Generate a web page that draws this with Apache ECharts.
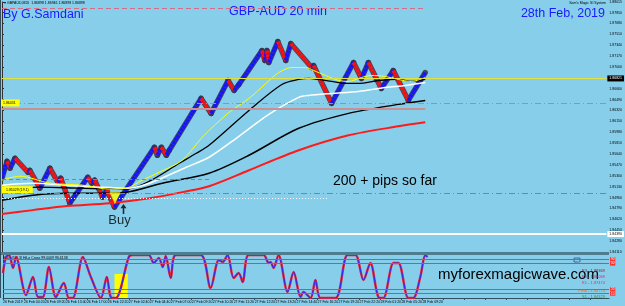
<!DOCTYPE html>
<html>
<head>
<meta charset="utf-8">
<title>GBP-AUD 20 min</title>
<script src="https://cdn.jsdelivr.net/npm/echarts@6/dist/echarts.min.js"></script>
<style>
  html, body { margin: 0; padding: 0; background: #87ceeb; }
  #chart { width: 625px; height: 306px; }
</style>
</head>
<body>
<div id="chart"></div>
<script>
// time labels under the oscillator, one every 10 bricks
const timeLabels = ['26 Feb 2019', '26 Feb 04:20', '26 Feb 09:20', '26 Feb 13:40', '26 Feb 17:00',
  '26 Feb 22:20', '27 Feb 02:40', '27 Feb 04:40', '27 Feb 07:00', '27 Feb 09:20', '27 Feb 10:20',
  '27 Feb 11:20', '27 Feb 12:20', '27 Feb 13:20', '27 Feb 14:40', '27 Feb 16:20', '27 Feb 19:20',
  '27 Feb 22:20', '28 Feb 01:20', '28 Feb 05:20', '28 Feb 09:20']

// renko swing points [brick, price]
const renkoSwings = [[0, 1.85263], [2.4, 1.85528], [3.8, 1.85419], [6.2, 1.85574], [12.4, 1.85356],
  [13.3, 1.85387], [18.1, 1.85107], [22.9, 1.85419], [26.7, 1.85200], [28.1, 1.85263], [32.4, 1.84873],
  [41, 1.85278], [42.9, 1.85185], [44.3, 1.85232], [48.1, 1.84967], [50, 1.85076], [53.8, 1.84811],
  [72.9, 1.85746], [74.3, 1.85621], [76.2, 1.85746], [78.6, 1.85621], [80, 1.85699], [95.2, 1.86509],
  [100, 1.86275], [108.1, 1.86789], [111, 1.86634], [113.3, 1.86727], [124.3, 1.87257], [125.7, 1.87101],
  [126.7, 1.87257], [127.6, 1.87070], [131.9, 1.87397], [135.7, 1.87101], [138.1, 1.87366],
  [148.1, 1.86992], [149, 1.87023], [157.6, 1.86431], [168.1, 1.87070], [171.9, 1.86821],
  [175.2, 1.87070], [181.4, 1.86665], [187.1, 1.86945], [194.3, 1.86478], [202.4, 1.86914]]

// moving averages [brick, price]
const maYellow = [[0, 1.85232], [8.6, 1.85294], [22.9, 1.85185], [38.6, 1.85154], [51.4, 1.85091],
  [59.5, 1.85107], [67.1, 1.85232], [75.2, 1.85356], [86.2, 1.85543], [95.7, 1.85901], [108.6, 1.86291],
  [118.1, 1.86509], [126.2, 1.86743], [132.4, 1.86914], [138.6, 1.86992], [145.2, 1.86992],
  [149, 1.86945], [154.8, 1.86867], [161, 1.86789], [165.7, 1.86774], [171.9, 1.86836], [176.7, 1.86867],
  [183.3, 1.86852], [189.5, 1.86805], [195.7, 1.86774], [202.4, 1.86836]]
const maWhite = [[0, 1.85154], [14.8, 1.85185], [31, 1.85154], [46.7, 1.85123], [59.5, 1.85107],
  [70.5, 1.85185], [88.1, 1.85434], [99, 1.85590], [113.3, 1.85917], [127.6, 1.86260], [141.9, 1.86525],
  [146.7, 1.86556], [157.6, 1.86587], [170.5, 1.86618], [183.3, 1.86680], [192.9, 1.86712],
  [202.4, 1.86758]]
const maBlack = [[0, 1.85076], [18.1, 1.85123], [37.1, 1.85107], [59.5, 1.85091], [70.5, 1.85216],
  [84.8, 1.85496], [92.9, 1.85652], [99, 1.85777], [118.1, 1.86322], [133.8, 1.86727], [141.9, 1.86805],
  [146.7, 1.86821], [151.4, 1.86805], [157.6, 1.86774], [164.3, 1.86743], [170.5, 1.86743],
  [180, 1.86789], [189.5, 1.86805], [195.7, 1.86774], [202.4, 1.86805]]
const maBlackSlow = [[0, 1.84920], [14.8, 1.84998], [31, 1.85029], [46.7, 1.85029], [59.5, 1.85045],
  [76.7, 1.85185], [99, 1.85341], [118.1, 1.85621], [141.9, 1.86042], [165.7, 1.86275],
  [189.5, 1.86416], [202.4, 1.86478]]
const maRed = [[0, 1.84702], [14.8, 1.84764], [31, 1.84827], [51.4, 1.84873], [70.5, 1.84951],
  [86.2, 1.85045], [99, 1.85138], [118.1, 1.85387], [141.9, 1.85699], [165.7, 1.85933],
  [189.5, 1.86073], [202.4, 1.86135]]

// oscillator [brick, value 0-100]
const stoch = [[0, 58.1], [1.4, 95.3], [2.9, 100], [4.8, 69.8], [6.2, 95.3], [11, 7], [14.3, 48.8],
  [16.7, 2.3], [19, 2.3], [21.9, 72.1], [25.2, 2.3], [29, 34.9], [31.4, 0], [33.3, 0], [38.1, 95.3],
  [41.9, 48.8], [46.7, 0], [49.5, 48.8], [51.4, 2.3], [53.8, 0], [60, 95.3], [61.9, 100], [69.5, 100],
  [71.9, 81.4], [74.3, 93], [76.2, 72.1], [77.6, 97.7], [80, 46.5], [82.4, 100], [94.3, 100], [99, 23.3],
  [102.9, 88.4], [104.8, 83.7], [107.1, 100], [110, 46.5], [112.4, 58.1], [114.3, 37.2], [117.1, 100],
  [124.3, 100], [126.7, 81.4], [127.6, 83.7], [129, 69.8], [131.4, 100], [135.7, 14], [138.6, 60.5],
  [141.9, 2.3], [143.3, 14], [146.7, 0], [149, 41.9], [151.4, 0], [158.6, 0], [164.3, 100],
  [168.1, 100], [171.9, 41.9], [175.2, 81.4], [179, 2.3], [181.4, 0], [186.2, 81.4], [188.6, 81.4],
  [193.3, 0], [195.7, 0], [199, 48.8], [201.4, 100], [202.4, 95.3]]
const stochLevels = [10, 20, 80, 90]

const currentPrice = 1.86821
const buyZone = [[54, 1.84951]]
const buyArrow = [[58.1, 1.84858]]
const pivotTexts = ['R3 - 1.88369', 'R2 - 1.88069', 'R1 - 1.87474', 'Pivot - 1.86774', 'S1 - 1.84329']
const pivotColors = ['#8b1a1a', '#c0306a', '#e0306a', '#ff6a00', '#1f9f2f']

const font = 'Liberation Sans'

const legs = []
for (let i = 1; i < renkoSwings.length; i++) {
  legs.push([renkoSwings[i - 1][0], renkoSwings[i - 1][1], renkoSwings[i][0], renkoSwings[i][1]])
}

// one renko leg, drawn as a thick band of bricks
const renkoLeg = function (outline) {
  return function (params, api) {
    const a = api.coord([api.value(0), api.value(1)])
    const b = api.coord([api.value(2), api.value(3)])
    const up = api.value(3) > api.value(1)
    return {
      type: 'line',
      shape: { x1: a[0], y1: a[1], x2: b[0], y2: b[1] },
      style: outline
        ? { stroke: '#34344a', lineWidth: 5.4, lineCap: 'round', opacity: 0.85 }
        : { stroke: up ? '#1414ff' : '#ff1010', lineWidth: 3.8, lineCap: 'butt', lineDash: [3.2, 0.5] }
    }
  }
}

const maLine = function (data, color, width) {
  return {
    type: 'line', data: data, xAxisIndex: 0, yAxisIndex: 0, showSymbol: false, smooth: 0.3,
    silent: true, lineStyle: { color: color, width: width }, z: 4
  }
}

const smallLabel = { fontSize: 3.5, fontFamily: font, color: '#000' }

const option = {
  backgroundColor: '#87ceeb',
  animation: false,
  grid: [
    { left: 2, right: 16, top: 1, height: 251 },
    { left: 2, right: 16, top: 255, height: 43 }
  ],
  xAxis: [
    { type: 'value', gridIndex: 0, min: 0, max: 289, show: false },
    {
      type: 'value', gridIndex: 1, min: 0, max: 289, interval: 10,
      axisLine: { show: true, lineStyle: { color: '#2f4f5f' } },
      axisTick: { show: true, length: 2, lineStyle: { color: '#2f4f5f' } },
      splitLine: { show: false },
      axisLabel: Object.assign({}, smallLabel, {
        margin: 2, align: 'left', showMaxLabel: false,
        formatter: function (v) { return timeLabels[Math.round(v / 10)] || '' }
      })
    }
  ],
  yAxis: [
    {
      type: 'value', gridIndex: 0, position: 'right', min: 1.8411, max: 1.88015, interval: 0.0017,
      axisLine: { show: true, lineStyle: { color: '#333' } },
      axisTick: { show: true, length: 2, lineStyle: { color: '#333' } },
      splitLine: { show: false },
      axisLabel: Object.assign({}, smallLabel, {
        margin: 3, formatter: function (v) { return v.toFixed(5) }
      })
    },
    {
      type: 'value', gridIndex: 1, position: 'right', min: 0, max: 100,
      axisLine: { show: true, lineStyle: { color: '#333' } },
      axisTick: { show: false }, axisLabel: { show: false }, splitLine: { show: false }
    }
  ],
  series: [
    // horizontal levels on the price chart
    {
      type: 'line', data: [], xAxisIndex: 0, yAxisIndex: 0, z: 1,
      markLine: {
        silent: true, symbol: ['none', 'none'], precision: 5, label: { show: false },
        data: [
          [{ coord: [0, 1.87911], lineStyle: { color: '#d0708a', type: [5, 3], width: 1 } }, { coord: [201.4, 1.87911] }],
          {
            yAxis: currentPrice, lineStyle: { color: '#e0e040', type: 'solid', width: 1 },
            label: { show: true, position: 'end', distance: 1, formatter: currentPrice.toFixed(5), backgroundColor: '#000', color: '#fff', fontSize: 3.5, padding: [1, 2] }
          },
          {
            yAxis: 1.86431, lineStyle: { color: '#8a9aa0', type: [6, 3, 1, 3], width: 1 },
            label: { show: true, position: 'insideStartTop', distance: -3, formatter: '1.86431', backgroundColor: '#ffff00', color: '#000', fontSize: 3.5, padding: [1.5, 4] }
          },
          [{ coord: [0, 1.86353], lineStyle: { color: '#c89090', type: 'solid', width: 2 } }, { coord: [202.4, 1.86353] }],
          [{ coord: [0, 1.85247], lineStyle: { color: '#4fa07a', type: [4, 3], width: 1 } }, { coord: [99, 1.85247] }],
          {
            yAxis: 1.85029, lineStyle: { color: '#4f9f7f', type: [6, 3, 1, 3], width: 1 },
            label: { show: true, position: 'insideStartTop', distance: 0, formatter: '1.85029 (19.1)', backgroundColor: '#ffff00', color: '#000', fontSize: 3.5, padding: [1.5, 4] }
          },
          [{ coord: [0, 1.84951], lineStyle: { color: '#ffffff', type: [1, 2], width: 1 } }, { coord: [156, 1.84951] }],
          {
            yAxis: 1.8439, lineStyle: { color: '#ffffff', type: 'solid', width: 2 },
            label: { show: true, position: 'end', distance: 1, formatter: '1.84390', backgroundColor: '#fff', color: '#000', fontSize: 3.5, padding: [1, 2] }
          }
        ]
      }
    },
    {
      type: 'custom', data: legs, xAxisIndex: 0, yAxisIndex: 0, z: 2, silent: true, clip: true,
      encode: { x: [0, 2], y: [1, 3] }, renderItem: renkoLeg(true)
    },
    {
      type: 'custom', data: legs, xAxisIndex: 0, yAxisIndex: 0, z: 3, silent: true, clip: true,
      encode: { x: [0, 2], y: [1, 3] }, renderItem: renkoLeg(false)
    },
    maLine(maRed, '#ff1a1a', 2),
    maLine(maBlackSlow, '#000000', 1.5),
    maLine(maBlack, '#000000', 1.3),
    maLine(maWhite, '#ffffff', 1.5),
    maLine(maYellow, '#ffff00', 1),
    {
      type: 'scatter', data: buyZone, xAxisIndex: 0, yAxisIndex: 0, z: 5, silent: true,
      symbol: 'triangle', symbolRotate: 180, symbolSize: [11, 12], itemStyle: { color: '#ffff00' }
    },
    {
      type: 'scatter', data: buyArrow, xAxisIndex: 0, yAxisIndex: 0, z: 5, silent: true,
      symbol: 'path://M5,0 L10,5 L6.3,5 L6.3,12 L3.7,12 L3.7,5 L0,5 Z', symbolSize: [6, 10], symbolOffset: [0, 5],
      itemStyle: { color: '#000' },
      label: { show: true, position: 'bottom', distance: 0, offset: [-4, 0], formatter: 'Buy', fontSize: 13, fontFamily: font, color: '#000' }
    },
    // oscillator panel
    {
      type: 'line', data: [], xAxisIndex: 1, yAxisIndex: 1, z: 1,
      markArea: {
        silent: true, itemStyle: { color: '#ffff00' },
        data: [[{ xAxis: 53.2, yAxis: 0 }, { xAxis: 59.5, yAxis: 56 }]]
      },
      markLine: {
        silent: true, symbol: ['none', 'none'], precision: 0,
        lineStyle: { color: '#e04848', type: 'solid', width: 1 },
        label: { show: true, position: 'end', distance: 1, backgroundColor: '#ff3030', color: '#fff', fontSize: 3, padding: [0.5, 1] },
        data: stochLevels.map(function (v) { return { yAxis: v } })
      }
    },
    {
      type: 'line', data: stoch, xAxisIndex: 1, yAxisIndex: 1, showSymbol: false, smooth: 0.3, silent: true,
      lineStyle: { color: '#ff2020', width: 2.4 }, z: 3
    },
    {
      type: 'line', data: stoch, xAxisIndex: 1, yAxisIndex: 1, showSymbol: false, smooth: 0.3, silent: true,
      lineStyle: { color: '#2030ff', width: 1.1 }, z: 4
    }
  ],
  graphic: [
    { type: 'rect', x: 0, y: 252, shape: { width: 609, height: 3 }, style: { fill: '#4f7d90' }, z: 10 },
    { type: 'rect', x: 0, y: 0, shape: { width: 1, height: 298 }, style: { fill: '#2f4f5f' }, z: 10 },
    { type: 'text', x: 4, y: 1, style: { text: '\u25be GBPAUD,M20  1.86898 1.86946 1.86898 1.86898', fontSize: 3.5, fontFamily: font, fill: '#000' } },
    { type: 'text', x: 3, y: 8, style: { text: 'By G.Samdani', fontSize: 12.5, fontFamily: font, fill: '#1a1aff' } },
    { type: 'text', x: 229, y: 5, style: { text: 'GBP-AUD 20 min', fontSize: 12.5, fontFamily: font, fill: '#1a1aff' } },
    { type: 'text', x: 605, y: 7, style: { text: '28th Feb, 2019', fontSize: 12.5, fontFamily: font, fill: '#1a1aff', align: 'right' } },
    { type: 'text', x: 606, y: 1.5, style: { text: "Sam's Magic SI System", fontSize: 3.5, fontFamily: font, fill: '#000', align: 'right' } },
    { type: 'text', x: 333, y: 174, style: { text: '200 + pips so far', fontSize: 14, fontFamily: font, fill: '#000' } },
    { type: 'text', x: 438, y: 267, style: { text: 'myforexmagicwave.com', fontSize: 15, fontFamily: font, fill: '#000' } },
    { type: 'text', x: 3, y: 256, style: { text: 'Stoch(5,3,3) HiLo Cross 99.0009 96.6138', fontSize: 3.5, fontFamily: font, fill: '#000' } },
    { type: 'rect', x: 574, y: 258, shape: { width: 6, height: 4 }, style: { fill: 'none', stroke: '#4060a0', lineWidth: 1 } },
    { type: 'text', x: 605, y: 261, style: { text: 'Daily Pivot Points', fontSize: 3.5, fontFamily: font, fill: '#9ab8c8', align: 'right' } }
  ].concat(pivotTexts.map(function (t, i) {
    return { type: 'text', x: 605, y: [268.5, 275, 281, 288.5, 295][i], style: { text: t, fontSize: 4, fontFamily: font, fill: pivotColors[i], align: 'right' } }
  }))
}

const myChart = echarts.init(document.getElementById('chart'))
myChart.setOption(option)
</script>
</body>
</html>
